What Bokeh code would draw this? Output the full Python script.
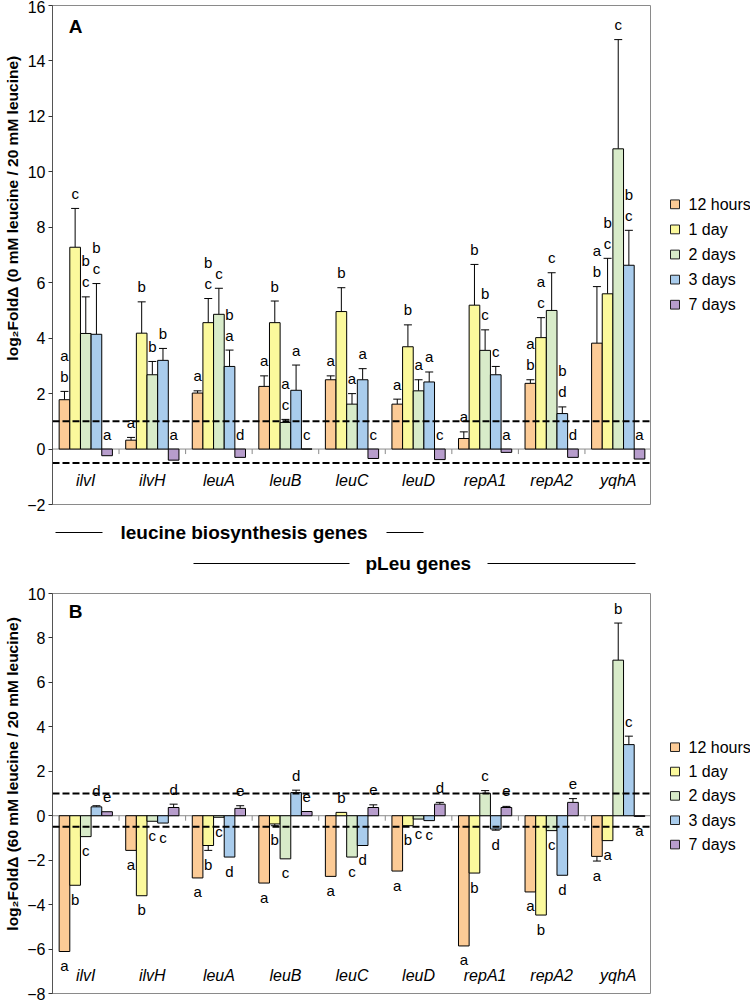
import numpy as np
from bokeh.plotting import figure
from bokeh.models import (ColumnDataSource, FixedTicker, Range1d, Label, Whisker,
                          TeeHead, Span, Spacer)
from bokeh.layouts import column, row
from bokeh.embed import file_html
from bokeh.resources import INLINE
from bokeh.core.properties import value

# ---------------- data ----------------
genes = ["ilvI", "ilvH", "leuA", "leuB", "leuC", "leuD", "repA1", "repA2", "yqhA"]
series_labels = ["12 hours", "1 day", "2 days", "3 days", "7 days"]

# Panel A: log2 fold change (0 mM / 20 mM leucine)
A_12h = [1.78, 0.32, 2.02, 2.26, 2.50, 1.62, 0.38, 2.37, 3.82]
A_1d = [7.28, 4.18, 4.56, 4.56, 4.96, 3.69, 5.19, 4.02, 5.60]
A_2d = [4.17, 2.68, 4.86, 0.96, 1.62, 2.10, 3.56, 5.00, 10.83]
A_3d = [4.14, 3.20, 2.98, 2.12, 2.50, 2.42, 2.68, 1.28, 6.63]
A_7d = [-0.24, -0.40, -0.30, 0.0, -0.34, -0.38, -0.12, -0.30, -0.36]
A_12h_err = [0.30, 0.10, 0.08, 0.38, 0.14, 0.18, 0.24, 0.13, 2.04]
A_1d_err = [1.40, 1.13, 0.87, 0.78, 0.86, 0.79, 1.47, 0.72, 1.28]
A_2d_err = [1.32, 0.48, 0.94, 0.11, 0.38, 0.40, 0.74, 1.36, 3.94]
A_3d_err = [1.83, 0.43, 0.59, 0.91, 0.40, 0.36, 0.30, 0.24, 1.26]
A_7d_err = [0, 0, 0, 0, 0, 0, 0, 0, 0]
A_12h_sig = ["ab", "a", "a", "a", "a", "a", "a", "ab", "ab"]
A_1d_sig = ["c", "b", "bc", "b", "b", "b", "b", "ac", "bc"]
A_2d_sig = ["bc", "b", "c", "ac", "a", "a", "bc", "c", "c"]
A_3d_sig = ["bc", "b", "ba", "a", "a", "a", "c", "bd", "bc"]
A_7d_sig = ["a", "a", "d", "c", "c", "c", "a", "d", "a"]

# Panel B: log2 fold change (60 mM / 20 mM leucine)
B_12h = [-6.11, -1.56, -2.80, -3.03, -2.73, -2.49, -5.86, -3.43, -1.83]
B_1d = [-3.13, -3.60, -1.34, -0.37, 0.15, -0.45, -2.58, -4.47, -1.12]
B_2d = [-0.94, -0.25, -0.07, -1.94, -1.86, -0.15, 1.01, -0.67, 7.00]
B_3d = [0.40, -0.33, -1.86, 1.04, -1.34, -0.22, -0.60, -2.68, 3.20]
B_7d = [0.18, 0.37, 0.33, 0.19, 0.37, 0.52, 0.37, 0.60, -0.03]
B_12h_err = [0, 0, 0, 0, 0, 0, 0, 0, 0.21]
B_1d_err = [0, 0, 0.22, 0.08, 0, 0, 0, 0, 0]
B_2d_err = [0, 0, 0, 0, 0, 0, 0.12, 0, 1.67]
B_3d_err = [0.05, 0, 0, 0.11, 0, 0, 0.05, 0, 0.38]
B_7d_err = [0, 0.15, 0.12, 0, 0.12, 0.08, 0.05, 0.17, 0]
B_12h_sig = ["a", "a", "a", "a", "a", "a", "a", "a", "a"]
B_1d_sig = ["b", "b", "b", "b", "b", "b", "b", "b", "a"]
B_2d_sig = ["c", "c", "c", "c", "c", "c", "c", "c", "b"]
B_3d_sig = ["d", "c", "d", "d", "d", "c", "d", "d", "c"]
B_7d_sig = ["e", "d", "e", "e", "e", "d", "e", "e", "a"]

A_ticks = [-2, 0, 2, 4, 6, 8, 10, 12, 14, 16]
B_ticks = [-8, -6, -4, -2, 0, 2, 4, 6, 8, 10]
thresholds = [1, -0.5]

# ---------------- style / layout ----------------
colors = ["#FCCB96", "#FBF99C", "#D8EBC9", "#A9CCEC", "#B79DCC"]
FONT = "Liberation Sans"
TW = 24          # y-title strip width
AX_W = 28        # axis border inside the plot
FRAME_W = 599
PW = AX_W + FRAME_W
LEG_W = 750 - TW - PW
offsets = [-0.32, -0.16, 0.0, 0.16, 0.32]
BAR_W = 0.16


def blank(width, height, xr, yr):
    f = figure(width=width, height=height, x_range=Range1d(*xr), y_range=Range1d(*yr),
               output_backend="svg", toolbar_location=None, x_axis_location=None,
               y_axis_location=None, min_border=0, outline_line_color=None, title=None)
    f.grid.visible = False
    return f


def make_panel(vals, errs, sigs, ymin, ymax, ticks, frame_h, top_b, bot_b,
               title, letter, title_c, letter_y, leg_top, leg_pitch, cat_off, neg_below):
    H = top_b + frame_h + bot_b
    p = figure(width=PW, height=H, title=None,
               x_range=Range1d(0, 9), y_range=Range1d(ymin, ymax),
               output_backend="svg", toolbar_location=None,
               x_axis_location=None,
               min_border_left=AX_W, min_border_right=0,
               min_border_top=top_b, min_border_bottom=bot_b)
    p.xgrid.visible = False
    p.ygrid.visible = False
    p.outline_line_color = "#8a8a8a"
    p.outline_line_width = 1

    ax = p.yaxis[0]
    ax.ticker = FixedTicker(ticks=ticks)
    ax.major_tick_out = 4
    ax.major_tick_in = 0
    ax.minor_tick_out = 0
    ax.minor_tick_in = 0
    ax.axis_line_color = "#555555"
    ax.major_tick_line_color = "#333333"
    ax.major_label_text_font = FONT
    ax.major_label_text_font_size = "16px"
    ax.major_label_text_color = "black"
    ax.major_label_standoff = 3

    px_per_unit = frame_h / (ymax - ymin)

    p.add_layout(Span(location=0, dimension="width", line_color="#8a8a8a",
                      line_width=1, level="underlay"))
    bounds = list(range(1, 9))
    p.segment(x0=bounds, y0=[0] * len(bounds), x1=bounds,
              y1=[-5 / px_per_unit] * len(bounds), line_color="#8a8a8a", line_width=1)

    centers = np.arange(len(genes)) + 0.5
    up = dict(base=[], lower=[], upper=[])
    down = dict(base=[], lower=[], upper=[])
    tx, ty, tt, toff = [], [], [], []
    for s in range(5):
        xs = centers + offsets[s]
        p.vbar(x=xs, top=vals[s], bottom=0, width=BAR_W,
               fill_color=colors[s], line_color="black", line_width=1)
        for g in range(len(genes)):
            v = vals[s][g]
            e = errs[s][g]
            if e > 0:
                if v >= 0:
                    up["base"].append(xs[g]); up["lower"].append(v); up["upper"].append(v + e)
                else:
                    down["base"].append(xs[g]); down["lower"].append(v - e); down["upper"].append(v)
            lab = sigs[s][g]
            if v >= 0 or not neg_below:
                anchor = (v + e) if v >= 0 else 0.0
                n = len(lab)
                for j, ch in enumerate(lab):
                    k = n - 1 - j
                    tx.append(xs[g]); ty.append(anchor); tt.append(ch)
                    toff.append(-(15 + 21 * k))
            else:
                anchor = v - e
                for j, ch in enumerate(lab):
                    tx.append(xs[g]); ty.append(anchor); tt.append(ch)
                    toff.append(14 + 21 * j)

    if up["base"]:
        p.add_layout(Whisker(source=ColumnDataSource(up), base="base", lower="lower",
                             upper="upper", dimension="height", line_color="black",
                             line_width=1, lower_head=None,
                             upper_head=TeeHead(size=8, line_color="black", line_width=1)))
    if down["base"]:
        p.add_layout(Whisker(source=ColumnDataSource(down), base="base", lower="lower",
                             upper="upper", dimension="height", line_color="black",
                             line_width=1, upper_head=None,
                             lower_head=TeeHead(size=8, line_color="black", line_width=1)))

    for t in thresholds:
        p.add_layout(Span(location=t, dimension="width", line_color="black",
                          line_width=2, line_dash="7 3"))

    src = ColumnDataSource(dict(x=tx, y=ty, t=tt, off=toff))
    p.text(x="x", y="y", text="t", y_offset="off", source=src,
           text_font=value(FONT), text_font_size="15px", text_align="center",
           text_baseline="middle", text_color="black")

    p.text(x=centers, y=[ymin] * len(genes), text=genes, y_offset=-cat_off,
           text_font=value(FONT), text_font_size="16px", text_font_style="italic",
           text_align="center", text_baseline="middle", text_color="black")

    p.add_layout(Label(x=23, y=letter_y, x_units="screen", y_units="screen",
                       text=letter, text_align="center", text_baseline="middle",
                       text_font=FONT, text_font_size="19px",
                       text_font_style="bold", text_color="black"))

    # y-axis title strip
    t = blank(TW, H, (0, TW), (0, H))
    t.text(x=[12], y=[H - title_c], text=[title], angle=np.pi / 2,
           text_font=value(FONT), text_font_size="15.5px", text_font_style="bold",
           text_align="center", text_baseline="middle", text_color="black")

    # legend strip
    lg = blank(LEG_W, H, (0, LEG_W), (0, H))
    ly = [H - (leg_top + leg_pitch * i) for i in range(5)]
    lg.rect(x=[23.5] * 5, y=ly, width=9, height=9, fill_color=colors,
            line_color="#222222", line_width=1)
    lg.text(x=[37] * 5, y=ly, text=series_labels, text_font=value(FONT),
            text_font_size="16px", text_align="left", text_baseline="middle",
            text_color="black")

    return row(t, p, lg, spacing=0)


# Panel A: page y 0..512 (frame 5..504); Panel B: page y 583..1002 (frame 593..993)
rowA = make_panel([A_12h, A_1d, A_2d, A_3d, A_7d],
                  [A_12h_err, A_1d_err, A_2d_err, A_3d_err, A_7d_err],
                  [A_12h_sig, A_1d_sig, A_2d_sig, A_3d_sig, A_7d_sig],
                  -2, 16, A_ticks, 499, 5, 8,
                  "log\u2082Fold\u0394 (0 mM leucine / 20 mM leucine)", "A",
                  208, 478, 204, 25.75, 24, False)

rowB = make_panel([B_12h, B_1d, B_2d, B_3d, B_7d],
                  [B_12h_err, B_1d_err, B_2d_err, B_3d_err, B_7d_err],
                  [B_12h_sig, B_1d_sig, B_2d_sig, B_3d_sig, B_7d_sig],
                  -8, 10, B_ticks, 400, 10, 9,
                  "log\u2082Fold\u0394 (60 mM leucine / 20 mM leucine)", "B",
                  189, 382, 161, 25.5, 18, True)

# middle annotation strip (gene group brackets), x in page pixels
MH = 71
m = figure(width=PW, height=MH, x_range=Range1d(52, 651), y_range=Range1d(0, MH),
           output_backend="svg", toolbar_location=None, x_axis_location=None,
           y_axis_location=None, min_border_left=AX_W, min_border_right=0,
           min_border_top=0, min_border_bottom=0, outline_line_color=None, title=None)
m.grid.visible = False
y1, y2 = MH - 20, MH - 51
m.segment(x0=[55, 386, 193, 487], y0=[y1, y1, y2, y2],
          x1=[102, 423, 349, 635], y1=[y1, y1, y2, y2],
          line_color="black", line_width=1)
m.text(x=[120, 365], y=[y1, y2], text=["leucine biosynthesis genes", "pLeu genes"],
       text_font=value(FONT), text_font_size="19px", text_font_style="bold",
       text_align="left", text_baseline="middle", text_color="black")
rowM = row(Spacer(width=TW, height=MH), m, Spacer(width=LEG_W, height=MH), spacing=0)

layout = column(rowA, rowM, rowB, spacing=0)
open("out.html", "w").write(file_html(layout, INLINE))
